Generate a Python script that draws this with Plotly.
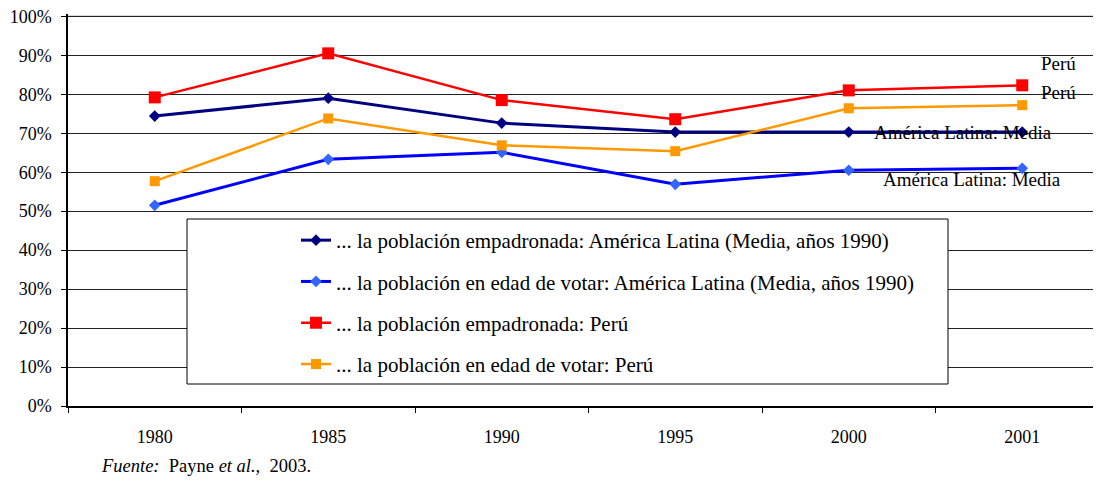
import plotly.graph_objects as go

years = ["1980", "1985", "1990", "1995", "2000", "2001"]
al_empadronada = [74.4, 79.0, 72.6, 70.3, 70.3, 70.3]
al_edad_votar = [51.5, 63.3, 65.1, 56.9, 60.5, 61.0]
peru_empadronada = [79.2, 90.5, 78.5, 73.6, 81.0, 82.3]
peru_edad_votar = [57.7, 73.8, 66.9, 65.4, 76.4, 77.2]

names = [
    "... la población empadronada: América Latina (Media, años 1990)",
    "... la población en edad de votar: América Latina (Media, años 1990)",
    "... la población empadronada: Perú",
    "... la población en edad de votar: Perú",
]
y_ticks = [0, 10, 20, 30, 40, 50, 60, 70, 80, 90, 100]
y_tick_text = [f"{v}%" for v in y_ticks]

FONT = "Liberation Serif"
# page body has an 8px margin; compensate so the plot lands where the reference has it
YMAX = 100.6
W, H = 1093, 474
PX_PER = 3.9
L, R, B = 60, 0, 76
T = H - B - round(YMAX * PX_PER)
PW, PH = W - L - R, H - T - B
X0, Y0 = 68, 406  # reference screen coords of plot left / bottom


def px_x(p):
    return (p - X0) / PW


def px_y(p):
    return (Y0 - p) / PH


fig = go.Figure()
styles = [
    dict(line=dict(color="#000080", width=3), marker=dict(symbol="diamond", size=9, color="#000080")),
    dict(line=dict(color="#0000FF", width=3), marker=dict(symbol="diamond", size=9, color="#3366FF")),
    dict(line=dict(color="#FF0000", width=2.5), marker=dict(symbol="square", size=12, color="#FF0000")),
    dict(line=dict(color="#FF9900", width=2.5), marker=dict(symbol="square", size=10, color="#FF9900")),
]
for i, (vals, nm) in enumerate(zip([al_empadronada, al_edad_votar, peru_empadronada, peru_edad_votar], names)):
    fig.add_trace(go.Scatter(x=years, y=vals, name=nm, mode="lines+markers",
                             legendgroup=f"g{i}", **styles[i]))

# top gridline (100%) drawn explicitly so it always shows at the plot edge
fig.add_shape(type="line", xref="paper", yref="y", x0=0, x1=1, y0=y_ticks[-1], y1=y_ticks[-1],
              line=dict(color="#222222", width=1), layer="below")

# legend box
fig.add_shape(type="rect", xref="paper", yref="paper",
              x0=px_x(187), x1=px_x(948), y0=px_y(384), y1=px_y(219),
              fillcolor="white", line=dict(color="black", width=1), layer="above")

ann_font = dict(family=FONT, size=19, color="black")
fig.add_annotation(x=5.21, y=87.9, text="Perú", showarrow=False, font=ann_font)
fig.add_annotation(x=5.21, y=80.5, text="Perú", showarrow=False, font=ann_font)
fig.add_annotation(x=4.66, y=70.2, text="América Latina: Media", showarrow=False, font=ann_font)
fig.add_annotation(x=4.71, y=58.2, text="América Latina: Media", showarrow=False, font=ann_font)
fig.add_annotation(xref="paper", yref="paper", x=px_x(99), y=px_y(466), xanchor="left", yanchor="middle",
                   text="<i>Fuente:</i>  Payne <i>et al.,</i>  2003.", showarrow=False,
                   font=dict(family=FONT, size=18.5, color="black"))

fig.update_layout(
    width=W, height=H,
    margin=dict(l=L, r=R, t=T, b=B, autoexpand=False),
    paper_bgcolor="white", plot_bgcolor="white",
    font=dict(family=FONT, size=18, color="black"),
    showlegend=True,
    legend=dict(x=px_x(296), y=px_y(220), xanchor="left", yanchor="top",
                bgcolor="rgba(0,0,0,0)", borderwidth=0, tracegroupgap=11,
                font=dict(family=FONT, size=21, color="black"), itemwidth=30),
    xaxis=dict(type="category", range=[-0.5, -0.5 + PW / 173.5], showgrid=False, automargin=False,
               showline=True, linecolor="black", linewidth=1.5,
               ticks="outside", ticklen=5, tickcolor="black", tickson="boundaries",
               ticklabelstandoff=14, tickfont=dict(family=FONT, size=18)),
    yaxis=dict(range=[0, YMAX], tickvals=y_ticks, ticktext=y_tick_text, automargin=False,
               showgrid=True, gridcolor="#222222", gridwidth=1, ticklabeloverflow="allow",
               showline=True, linecolor="black", linewidth=1.5,
               ticks="outside", ticklen=5, tickcolor="black",
               ticklabelstandoff=6, tickfont=dict(family=FONT, size=18), zeroline=False),
)

fig.write_html("out.html")
